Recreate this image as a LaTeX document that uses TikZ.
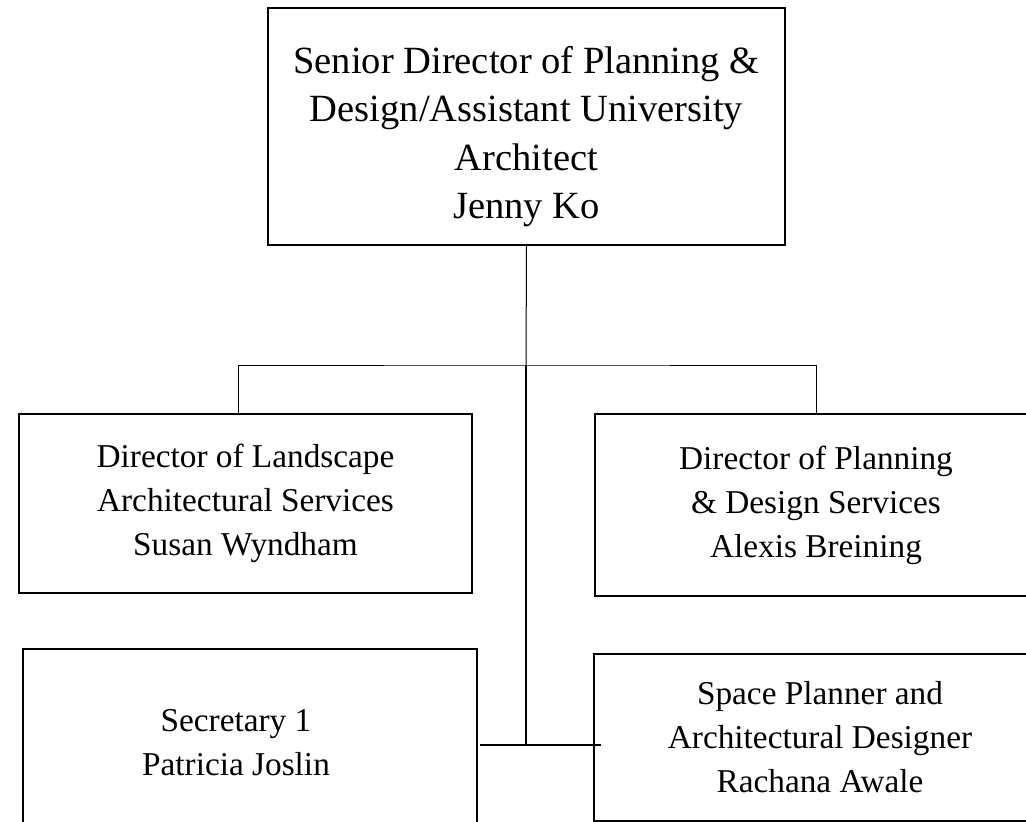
\documentclass[tikz,border=0pt]{standalone}
\usepackage{fontspec}
\setmainfont{Liberation Serif}
\usetikzlibrary{positioning}

\begin{document}
\begin{tikzpicture}[x=1pt, y=-1pt,
        box/.style={draw, line width=2pt, inner sep=0pt, align=center},
        bigtxt/.style={align=center, font=\fontsize{38.5}{48.3}\selectfont},
        smalltxt/.style={font=\fontsize{33.3}{44}\selectfont},
        thinline/.style={line width=1pt},
        thickline/.style={line width=1.8pt}]
        \clip (0,0) rectangle (1026,822);

        \node[box, minimum width=517pt, minimum height=237pt,
            label={[bigtxt, yshift=-10pt]center:Senior Director of Planning \&\\Design/Assistant University\\Architect\\Jenny Ko}]
            (dir) at (526.5,126.5) {};
        \node[box, smalltxt, minimum width=453pt, minimum height=179pt] (land) at (245.5,503.5)
            {Director of Landscape\\Architectural Services\\Susan Wyndham};
        \node[box, smalltxt, minimum width=442pt, minimum height=182pt] (plan) at (816,505)
            {Director of Planning\\\& Design Services\\Alexis Breining};
        \node[box, minimum width=454pt, minimum height=188pt,
            below=54pt of land.south west, anchor=north west, xshift=4pt,
            label={[smalltxt, align=center, xshift=-14pt]center:Secretary 1\\Patricia Joslin}]
            (sec) {};
        \node[box, smalltxt, minimum width=452pt, minimum height=167pt,
            below=56pt of plan.south west, anchor=north west, xshift=-1pt] (space)
            {Space Planner and\\Architectural Designer\\Rachana Awale};

        \coordinate (hub) at (526,365);
        \coordinate (jct) at (526,745);

        \draw[thinline] (dir.south) -- (hub);
        \draw[thinline] ([xshift=-7.5pt]land.north) |- (hub) -| (plan.north);
        \draw[thickline] (hub) -- (jct);
        \draw[thickline] ([xshift=2pt]sec.east |- jct) -- ([xshift=8pt]space.west |- jct);
    \end{tikzpicture}
\end{document}
